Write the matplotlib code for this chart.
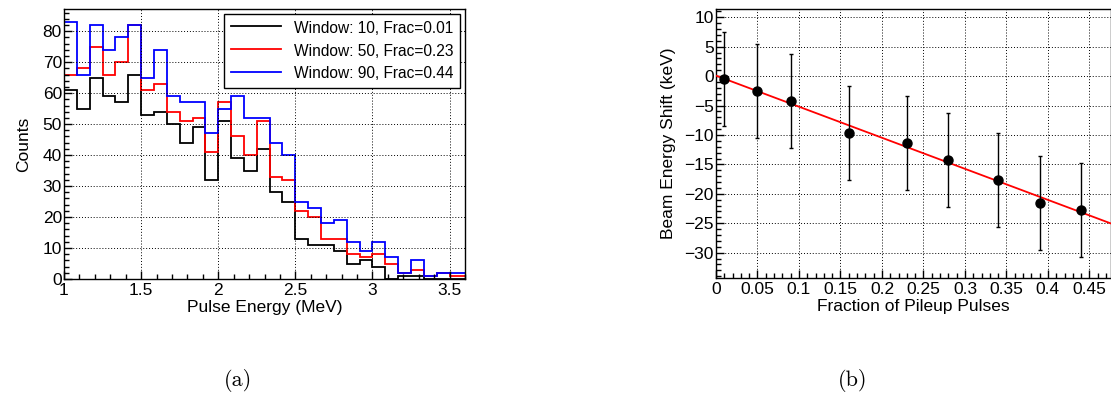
#!/usr/bin/env python3
import numpy as np
import matplotlib
matplotlib.use('Agg')
import matplotlib.pyplot as plt
from matplotlib.ticker import MultipleLocator, FuncFormatter

# pulse energy histograms, bins of 1/12 MeV starting at 1 MeV
bin_start = 1.0
bin_width = 1.0 / 12
counts_w10 = [61, 55, 65, 59, 57, 66, 53, 54, 50, 44, 49, 32, 51, 39, 35, 42,
              28, 25, 13, 11, 11, 9, 5, 6, 4, 0, 1, 1, 0, 0, 0, 0]
counts_w50 = [66, 68, 75, 66, 70, 82, 61, 63, 54, 51, 52, 41, 57, 46, 40, 51,
              33, 32, 22, 20, 13, 13, 8, 7, 8, 5, 2, 3, 1, 2, 1, 1]
counts_w90 = [83, 66, 82, 74, 78, 82, 65, 74, 59, 57, 57, 47, 55, 59, 52, 52,
              44, 40, 25, 23, 18, 19, 12, 9, 12, 7, 2, 6, 1, 2, 2, 2]
hist_labels = ['Window: 10, Frac=0.01', 'Window: 50, Frac=0.23',
               'Window: 90, Frac=0.44']
hist_colors = ['black', '#ff0000', '#0000ff']

# beam energy shift vs pileup fraction
pileup_frac = [0.01, 0.05, 0.09, 0.16, 0.23, 0.28, 0.34, 0.39, 0.44]
energy_shift = [-0.45, -2.5, -4.25, -9.7, -11.3, -14.2, -17.7, -21.5, -22.7]
shift_err = [8.0, 8.0, 8.0, 8.0, 8.0, 8.0, 8.0, 8.0, 8.0]

plt.rcParams['font.family'] = 'Liberation Sans'


def fmt(v, p):
    return f'{v:g}'.replace('-', '\u2212')


def root_style(ax, xmaj, xmin, ymaj, ymin):
    ax.xaxis.set_major_locator(MultipleLocator(xmaj))
    ax.xaxis.set_minor_locator(MultipleLocator(xmin))
    ax.yaxis.set_major_locator(MultipleLocator(ymaj))
    ax.yaxis.set_minor_locator(MultipleLocator(ymin))
    ax.xaxis.set_major_formatter(FuncFormatter(fmt))
    ax.yaxis.set_major_formatter(FuncFormatter(fmt))
    ax.tick_params(which='both', direction='in', top=False, right=False,
                   labelsize=12.5, width=1.0, colors='black')
    ax.tick_params(which='major', length=6)
    ax.tick_params(which='minor', length=3.5)
    ax.tick_params(axis='x', pad=3)
    ax.tick_params(axis='y', pad=1.5)
    ax.grid(True, which='major', color='black', linestyle=(0, (1, 2)),
            linewidth=0.7)
    for s in ax.spines.values():
        s.set_linewidth(1.0)


fig = plt.figure(figsize=(11.11, 4.04), dpi=100)
W, H = 1111.0, 404.0

# (a) histograms
ax1 = fig.add_axes([64 / W, 1 - 279 / H, 401 / W, 270 / H])
edges = bin_start + bin_width * np.arange(len(counts_w10) + 1)
for vals, lab, col in zip([counts_w10, counts_w50, counts_w90], hist_labels,
                          hist_colors):
    ax1.stairs(vals, edges, color=col, linewidth=1.3, label=lab)
ax1.set_xlim(1, 3.6)
ax1.set_ylim(0, 87.15)
root_style(ax1, 0.5, 0.1, 10, 2)
ax1.set_xlabel('Pulse Energy (MeV)', fontsize=12.5, labelpad=1)
ax1.set_ylabel('Counts', fontsize=12.5, labelpad=8)
leg = ax1.legend(loc='upper right', bbox_to_anchor=(0.988, 0.982),
                 fontsize=11.2, frameon=True, fancybox=False, framealpha=1,
                 edgecolor='black', handlelength=3.2, borderpad=0.45,
                 labelspacing=0.5, handletextpad=0.8, borderaxespad=0,
                 handleheight=0.9)
leg.get_frame().set_linewidth(1.0)

# (b) energy shift
ax2 = fig.add_axes([716 / W, 1 - 278 / H, 395 / W, 269 / H])
slope, icpt = np.polyfit(pileup_frac, energy_shift, 1)
xmax = 0.476
ax2.plot([0, xmax], [icpt, icpt + slope * xmax], color='#ff0000',
         linewidth=1.3, zorder=3)
ax2.errorbar(pileup_frac, energy_shift, yerr=shift_err, fmt='o', color='black',
             markersize=6.5, elinewidth=1.0, capsize=1.5, capthick=1.0,
             zorder=4)
ax2.set_xlim(0, xmax)
ax2.set_ylim(-34.3, 11.4)
root_style(ax2, 0.05, 0.01, 5, 1)
ax2.set_xlabel('Fraction of Pileup Pulses', fontsize=12.5, labelpad=1)
ax2.set_ylabel('Beam Energy Shift (keV)', fontsize=12.5, labelpad=6)

fig.text(238 / W, 1 - 380 / H, '(a)', family='cmr10', fontsize=16,
         ha='center', va='center')
fig.text(853 / W, 1 - 380 / H, '(b)', family='cmr10', fontsize=16,
         ha='center', va='center')

fig.savefig('out.png', dpi=100)
